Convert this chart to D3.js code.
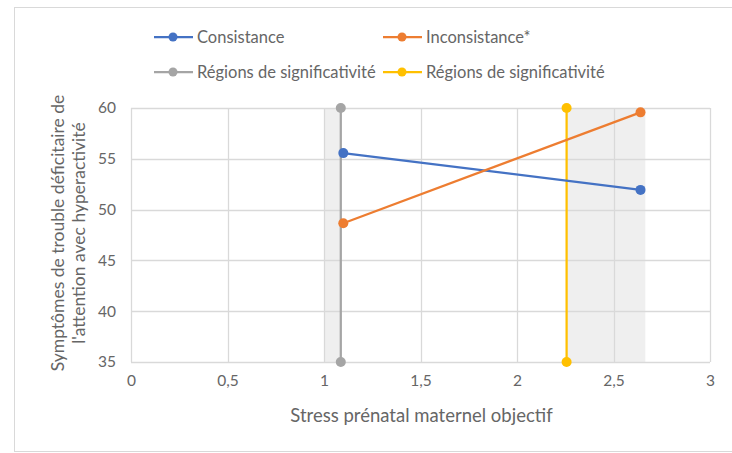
<!DOCTYPE html>
<html>
<head>
<meta charset="utf-8">
<script src="https://cdn.jsdelivr.net/npm/d3@7"></script>
<style>
  html, body { margin: 0; padding: 0; background: #fff; }
  svg { display: block; font-family: Lato, "Open Sans", sans-serif; }
</style>
</head>
<body>
<svg id="chart" width="732" height="453"></svg>
<script>
// Series: two regression lines and two significance boundaries
const consistanceX = [1.1, 2.64];
const consistanceY = [55.56, 51.94];
const inconsistanceX = [1.1, 2.64];
const inconsistanceY = [48.66, 59.57];
const regionGrayX = [1.087, 1.087];
const regionGrayY = [35, 60];
const regionYellowX = [2.257, 2.257];
const regionYellowY = [35, 60];
// Shaded regions of significance (x ranges)
const bandStarts = [1.0, 2.257];
const bandEnds = [1.087, 2.665];
// Axis ticks
const xTicks = [0, 0.5, 1, 1.5, 2, 2.5, 3];
const xTickLabels = ["0", "0,5", "1", "1,5", "2", "2,5", "3"];
const yTicks = [35, 40, 45, 50, 55, 60];
const legendNames = ["Consistance", "Inconsistance*", "Régions de significativité", "Régions de significativité"];
const seriesColors = ["#4472C4", "#ED7D31", "#A5A5A5", "#FFC000"];

const svg = d3.select("#chart");
const margin = { left: 131, right: 22, top: 108, bottom: 91 };
const W = 732, H = 453;
const textColor = "#666666";

const x = d3.scaleLinear().domain([0, 3]).range([margin.left, W - margin.right]);
const y = d3.scaleLinear().domain([35, 60]).range([H - margin.bottom, margin.top]);

// chart frame
svg.append("rect")
  .attr("x", 14.5).attr("y", 7.5)
  .attr("width", 740).attr("height", 444)
  .attr("fill", "#fff").attr("stroke", "#d9d9d9").attr("stroke-width", 1);

// significance bands
svg.append("g").selectAll("rect")
  .data(d3.range(bandStarts.length))
  .join("rect")
  .attr("x", i => x(bandStarts[i]))
  .attr("width", i => x(bandEnds[i]) - x(bandStarts[i]))
  .attr("y", y(60)).attr("height", y(35) - y(60))
  .attr("fill", "#efefef");

// gridlines
const grid = svg.append("g").attr("stroke", "#d9d9d9").attr("stroke-width", 1.3);
grid.selectAll("line.h").data(yTicks).join("line")
  .attr("x1", x(0)).attr("x2", x(3))
  .attr("y1", d => Math.round(y(d)) + 0.5).attr("y2", d => Math.round(y(d)) + 0.5);
grid.selectAll("line.v").data(xTicks).join("line")
  .attr("y1", y(60)).attr("y2", y(35))
  .attr("x1", d => Math.round(x(d)) + 0.5).attr("x2", d => Math.round(x(d)) + 0.5);

// axes (labels only)
const xAxis = d3.axisBottom(x).tickValues(xTicks)
  .tickFormat((d, i) => xTickLabels[i]).tickSize(0).tickPadding(13);
svg.append("g").attr("transform", `translate(0,${y(35)})`).call(xAxis)
  .call(g => g.select(".domain").remove())
  .selectAll("text").attr("fill", textColor).style("font-size", "15.5px")
  .style("font-family", "Lato, sans-serif");

const yAxis = d3.axisLeft(y).tickValues(yTicks).tickSize(0).tickPadding(15);
svg.append("g").attr("transform", `translate(${x(0)},0)`).call(yAxis)
  .call(g => g.select(".domain").remove())
  .selectAll("text").attr("fill", textColor).style("font-size", "15.5px")
  .style("font-family", "Lato, sans-serif");

// axis titles
svg.append("text")
  .attr("x", (x(0) + x(3)) / 2 + 1).attr("y", 422)
  .attr("text-anchor", "middle").attr("fill", textColor)
  .style("font-size", "18.5px")
  .text("Stress prénatal maternel objectif");

const yTitle = svg.append("text")
  .attr("transform", `translate(0,${(y(35) + y(60)) / 2 - 2}) rotate(-90)`)
  .attr("text-anchor", "middle").attr("fill", textColor)
  .style("font-size", "17.5px");
yTitle.append("tspan").attr("x", 0).attr("y", 64).text("Symptômes de trouble déficitaire de");
yTitle.append("tspan").attr("x", 0).attr("y", 85).text("l'attention avec hyperactivité");

// series
const series = [
  { xs: consistanceX, ys: consistanceY },
  { xs: inconsistanceX, ys: inconsistanceY },
  { xs: regionGrayX, ys: regionGrayY },
  { xs: regionYellowX, ys: regionYellowY }
];
const line = d3.line().x(d => x(d[0])).y(d => y(d[1]));
// vertical region lines first, regression lines on top
const order = [2, 3, 0, 1];
order.forEach(si => {
  const s = series[si];
  const pts = s.xs.map((v, i) => [v, s.ys[i]]);
  const g = svg.append("g");
  g.append("path").attr("d", line(pts))
    .attr("fill", "none").attr("stroke", seriesColors[si]).attr("stroke-width", 2.25);
  g.selectAll("circle").data(pts).join("circle")
    .attr("cx", d => x(d[0])).attr("cy", d => y(d[1])).attr("r", 5)
    .attr("fill", seriesColors[si]);
});

// legend
const legendPos = [[154, 37], [383, 37], [154, 72], [383, 72]];
const leg = svg.append("g");
legendNames.forEach((name, i) => {
  const [lx, ly] = legendPos[i];
  leg.append("line").attr("x1", lx).attr("x2", lx + 39).attr("y1", ly).attr("y2", ly)
    .attr("stroke", seriesColors[i]).attr("stroke-width", 2.25);
  leg.append("circle").attr("cx", lx + 19).attr("cy", ly).attr("r", 4.5).attr("fill", seriesColors[i]);
  leg.append("text").attr("x", lx + 43).attr("y", ly + 6)
    .attr("fill", textColor).style("font-size", "16.5px").text(name);
});
</script>
</body>
</html>
